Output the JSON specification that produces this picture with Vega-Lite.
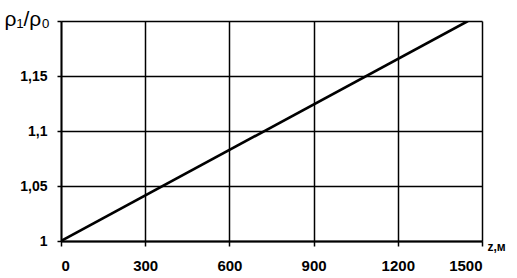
{
  "$schema": "https://vega.github.io/schema/vega-lite/v6.json",
  "width": 421,
  "height": 220,
  "autosize": "none",
  "padding": {"left": 61, "top": 21, "right": 35, "bottom": 37},
  "background": "white",
  "config": {
    "view": {"stroke": null},
    "font": "Liberation Sans"
  },
  "data": {"values": [
    {"z": 0, "r": 1.0},
    {"z": 1450, "r": 1.2}
  ]},
  "mark": {"type": "line", "color": "black", "strokeWidth": 2.6, "clip": true},
  "encoding": {
    "x": {
      "field": "z", "type": "quantitative",
      "scale": {"domain": [0, 1500], "nice": false, "zero": false},
      "axis": {
        "values": [0, 300, 600, 900, 1200, 1500],
        "format": "d",
        "grid": true, "gridColor": "black", "gridWidth": 1.5, "gridOpacity": 1,
        "domainColor": "black", "domainWidth": 1.8,
        "tickColor": "black", "tickSize": 5, "tickWidth": 1.5,
        "labelFont": "Liberation Sans", "labelFontWeight": "bold", "labelFontSize": 15,
        "labelColor": "black", "labelPadding": 12,
        "title": "z,м", "titleFont": "Liberation Sans", "titleFontWeight": "bold", "titleFontSize": 12,
        "titleColor": "black", "titleAnchor": "start", "titleAlign": "left", "titleBaseline": "middle",
        "titleX": 426, "titleY": 5
      }
    },
    "y": {
      "field": "r", "type": "quantitative",
      "scale": {"domain": [1, 1.2], "nice": false, "zero": false},
      "axis": {
        "values": [1, 1.05, 1.1, 1.15, 1.2],
        "labelExpr": "datum.value >= 1.19 ? '' : replace(format(datum.value, '~g'), '.', ',')",
        "grid": true, "gridColor": "black", "gridWidth": 1.5, "gridOpacity": 1,
        "domainColor": "black", "domainWidth": 1.8,
        "tickColor": "black", "tickSize": 4, "tickWidth": 1.5,
        "labelFont": "Liberation Sans", "labelFontWeight": "bold", "labelFontSize": 14,
        "labelColor": "black", "labelPadding": 10,
        "title": "ρ₁/ρ₀", "titleFont": "Liberation Sans", "titleFontWeight": "normal", "titleFontSize": 21,
        "titleColor": "black", "titleAngle": 0, "titleAlign": "left", "titleBaseline": "alphabetic",
        "titleX": -57, "titleY": 4
      }
    }
  }
}
